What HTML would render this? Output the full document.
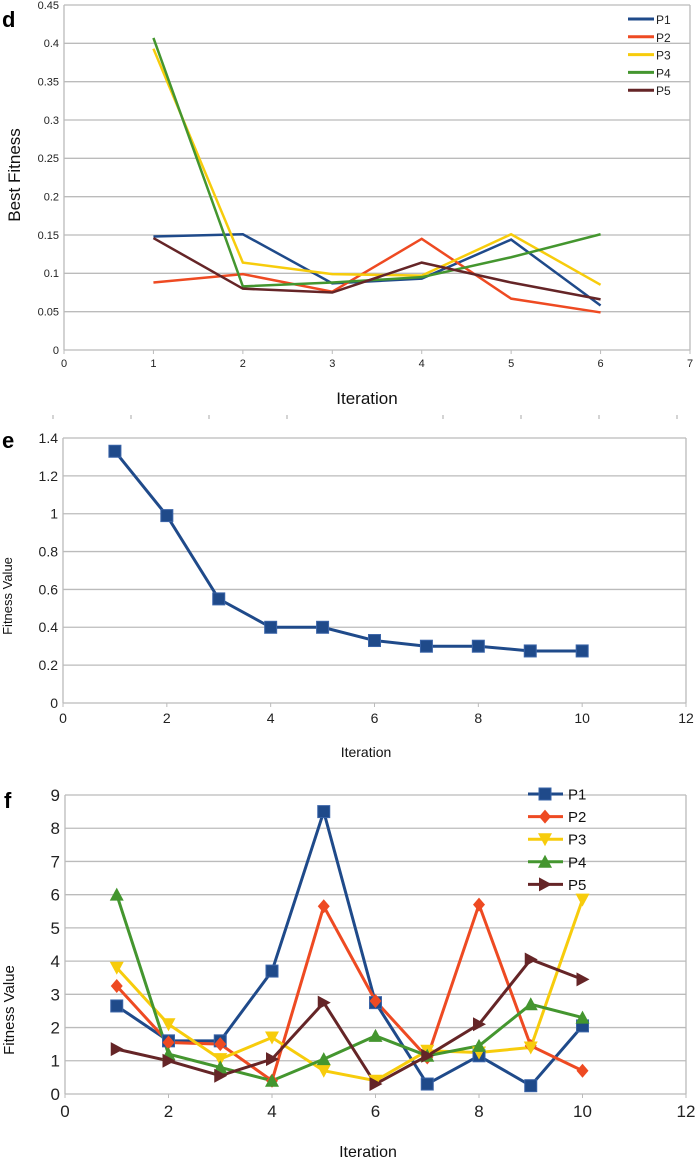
<!DOCTYPE html>
<html><head><meta charset="utf-8"><style>
body{margin:0;background:#fff;width:700px;height:1159px;overflow:hidden}
svg{display:block;font-family:"Liberation Sans",sans-serif}
</style></head><body>
<svg id="s" width="700" height="1159"></svg>
<script>
const dCats=[1,2,3,4,5,6];
const dP1=[0.148,0.151,0.087,0.093,0.144,0.058];
const dP2=[0.088,0.099,0.076,0.145,0.067,0.049];
const dP3=[0.393,0.114,0.099,0.097,0.151,0.085];
const dP4=[0.407,0.083,0.088,0.095,0.121,0.151];
const dP5=[0.146,0.080,0.075,0.114,0.088,0.066];
const dYTicks=[0,0.05,0.1,0.15,0.2,0.25,0.3,0.35,0.4,0.45];
const dXTicks=[0,1,2,3,4,5,6,7];
const eCats=[1,2,3,4,5,6,7,8,9,10];
const eVals=[1.33,0.99,0.55,0.40,0.40,0.33,0.30,0.30,0.275,0.275];
const eYTicks=[0,0.2,0.4,0.6,0.8,1,1.2,1.4];
const xTicks12=[0,2,4,6,8,10,12];
const fCats=[1,2,3,4,5,6,7,8,9,10];
const fP1=[2.65,1.6,1.6,3.7,8.5,2.75,0.3,1.15,0.25,2.05];
const fP2=[3.25,1.55,1.5,0.4,5.65,2.8,1.1,5.7,1.45,0.7];
const fP3=[3.8,2.1,1.05,1.7,0.7,0.4,1.3,1.25,1.4,5.85];
const fP4=[6.0,1.2,0.8,0.4,1.05,1.75,1.15,1.45,2.7,2.3];
const fP5=[1.35,1.0,0.55,1.05,2.75,0.3,1.15,2.1,4.05,3.45];
const fYTicks=[0,1,2,3,4,5,6,7,8,9];
const names=['P1','P2','P3','P4','P5'];
const colors=['#1f4a8a','#ee4a22','#f7cc0c','#44962f','#652527'];
const S=document.getElementById('s');const NS='http://www.w3.org/2000/svg';
function mk(t,a,txt){const e=document.createElementNS(NS,t);for(const k in a)e.setAttribute(k,a[k]);if(txt!==undefined)e.textContent=txt;S.appendChild(e);return e;}
function axes(cfg){
 const {x0,x1,y0,y1,xmax,ymax,yt,xt,fs,pre}=cfg;
 const X=v=>x0+(x1-x0)*v/xmax, Y=v=>y0-(y0-y1)*v/ymax;
 yt.forEach(v=>{let g=mk('line',{x1:x0,x2:x1,y1:Y(v),y2:Y(v),stroke:'#bbb','stroke-width':1.3});
  let t=mk('text',{x:x0-5,y:Y(v)+fs*0.35,'text-anchor':'end','font-size':fs,fill:'#222'},String(v));});
 let b=mk('line',{x1:x0,x2:x0,y1:y1,y2:y0,stroke:'#bbb','stroke-width':1.3});
 let r=mk('line',{x1:x1,x2:x1,y1:y1,y2:y0,stroke:'#bbb','stroke-width':1.3});
 xt.forEach(v=>{let l=mk('line',{x1:X(v),x2:X(v),y1:y0,y2:y0+4,stroke:'#bbb'});
  let t=mk('text',{x:X(v),y:y0+fs+6,'text-anchor':'middle','font-size':fs,fill:'#222'},String(v));});
 return {X,Y};
}
function marker(type,x,y,c,pre){
 let e;
 if(type==='sq')e=mk('rect',{x:x-6,y:y-6,width:12,height:12,fill:c,stroke:'#3a64a8','stroke-width':1});
 else if(type==='dia')e=mk('polygon',{points:`${x},${y-7} ${x+6},${y} ${x},${y+7} ${x-6},${y}`,fill:c});
 else if(type==='down')e=mk('polygon',{points:`${x-7},${y-6} ${x+7},${y-6} ${x},${y+7}`,fill:c});
 else if(type==='up')e=mk('polygon',{points:`${x-7},${y+6} ${x+7},${y+6} ${x},${y-7}`,fill:c});
 else e=mk('polygon',{points:`${x-6},${y-7} ${x+7},${y} ${x-6},${y+7}`,fill:c});
 
}
// panel d
let A=axes({x0:64,x1:690,y0:350,y1:5,xmax:7,ymax:0.45,yt:dYTicks,xt:dXTicks,fs:11,pre:'d'});
[dP1,dP2,dP3,dP4,dP5].forEach((s,i)=>{let p=mk('polyline',{points:s.map((v,j)=>A.X(dCats[j])+','+A.Y(v)).join(' '),fill:'none',stroke:colors[i],'stroke-width':2.5});
 const ly=19+i*17.8;
 let l=mk('line',{x1:628,x2:654,y1:ly,y2:ly,stroke:colors[i],'stroke-width':3});
 let t=mk('text',{x:656,y:ly+5,'font-size':12,fill:'#222'},names[i]);});
let t;
t=mk('text',{x:20,y:175,'font-size':17,'text-anchor':'middle',transform:'rotate(-90 20 175)',fill:'#111'},'Best Fitness');
t=mk('text',{x:367,y:404,'font-size':17,'text-anchor':'middle',fill:'#111'},'Iteration');
t=mk('text',{x:2,y:27,'font-size':22,'font-weight':'bold'},'d');
[53,131,209,287,443,521,599,677].forEach(x=>{let l=mk('line',{x1:x,x2:x,y1:415,y2:419,stroke:'#aaa'});});
// panel e
A=axes({x0:63,x1:686,y0:703,y1:438,xmax:12,ymax:1.4,yt:eYTicks,xt:xTicks12,fs:14,pre:'e'});
let p=mk('polyline',{points:eVals.map((v,j)=>A.X(eCats[j])+','+A.Y(v)).join(' '),fill:'none',stroke:colors[0],'stroke-width':3});
eVals.forEach((v,j)=>marker('sq',A.X(eCats[j]),A.Y(v),colors[0],'e'));
t=mk('text',{x:12,y:596,'font-size':13,'text-anchor':'middle',transform:'rotate(-90 12 596)',fill:'#111'},'Fitness Value');
t=mk('text',{x:366,y:757,'font-size':14,'text-anchor':'middle',fill:'#111'},'Iteration');
t=mk('text',{x:2,y:448,'font-size':22,'font-weight':'bold'},'e');
// panel f
A=axes({x0:65,x1:686,y0:1094,y1:795,xmax:12,ymax:9,yt:fYTicks,xt:xTicks12,fs:17,pre:'f'});
const mt=['sq','dia','down','up','right'];
[fP1,fP2,fP3,fP4,fP5].forEach((s,i)=>{let p=mk('polyline',{points:s.map((v,j)=>A.X(fCats[j])+','+A.Y(v)).join(' '),fill:'none',stroke:colors[i],'stroke-width':3});});
[fP1,fP2,fP3,fP4,fP5].forEach((s,i)=>{s.forEach((v,j)=>marker(mt[i],A.X(fCats[j]),A.Y(v),colors[i],'f-'+names[i].toLowerCase()));
 const ly=794+i*22.6;let l=mk('line',{x1:528,x2:563,y1:ly,y2:ly,stroke:colors[i],'stroke-width':3});
 marker(mt[i],545,ly,colors[i],'f-legend');
 let tt=mk('text',{x:568,y:ly+5.5,'font-size':15,fill:'#111'},names[i]);});
t=mk('text',{x:14,y:1010,'font-size':15,'text-anchor':'middle',transform:'rotate(-90 14 1010)',fill:'#111'},'Fitness Value');
t=mk('text',{x:368,y:1157,'font-size':16,'text-anchor':'middle',fill:'#111'},'Iteration');
t=mk('text',{x:4,y:808,'font-size':22,'font-weight':'bold'},'f');
</script>
</body></html>
